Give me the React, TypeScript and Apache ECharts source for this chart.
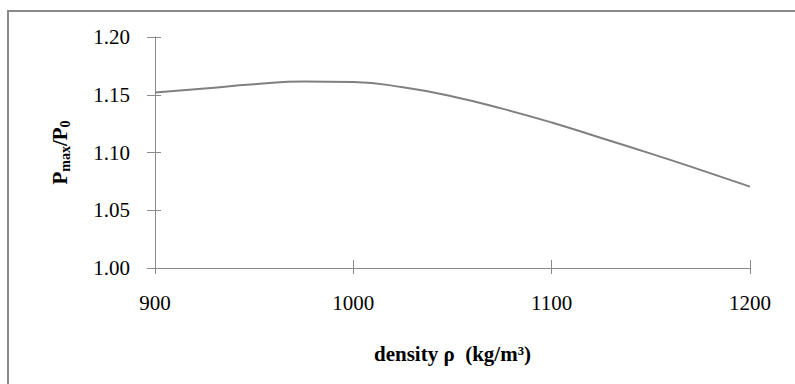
import React, { useEffect, useRef } from "react";
import * as echarts from "echarts";

// density ρ (kg/m³) and the pressure ratio Pmax/P0 at each density
const densities = [900, 925, 950, 975, 1000, 1025, 1050, 1075, 1100, 1125, 1150, 1175, 1200];
const ratios = [1.152, 1.1555, 1.159, 1.1615, 1.161, 1.1565, 1.1485, 1.138, 1.126, 1.1125, 1.099, 1.085, 1.0705];

const X_MIN = 900;
const X_MAX = 1200;
const X_STEP = 100;
const Y_MIN = 1.0;
const Y_MAX = 1.2;
const Y_STEP = 0.05;

const SERIF = "'Liberation Serif', 'Times New Roman', serif";
const AXIS_GRAY = "#8a8a8a";

export default function App() {
  const ref = useRef<HTMLDivElement>(null);

  useEffect(() => {
    if (!ref.current) return;
    const chart = echarts.init(ref.current, undefined, { renderer: "svg" });

    const labelStyle = {
      fontFamily: SERIF,
      fontSize: 21,
      color: "#000",
    };

    chart.setOption({
      animation: false,
      backgroundColor: "#fff",
      grid: { left: 155, right: 45, top: 37, bottom: 116 },
      graphic: [
        {
          type: "rect",
          shape: { x: 8, y: 11, width: 820, height: 420 },
          style: { fill: "none", stroke: AXIS_GRAY, lineWidth: 2 },
          silent: true,
        },
      ],
      xAxis: [
        {
          type: "value",
          min: X_MIN,
          max: X_MAX,
          interval: X_STEP,
          axisLine: { show: true, lineStyle: { color: AXIS_GRAY, width: 1 } },
          axisTick: { show: true, length: 6, lineStyle: { color: AXIS_GRAY } },
          splitLine: { show: false },
          axisLabel: { ...labelStyle, margin: 24, formatter: (v: number) => String(v) },
          name: "density ρ  (kg/m³)",
          nameLocation: "middle",
          nameGap: 75,
          nameTextStyle: {
            fontFamily: SERIF,
            fontSize: 21,
            fontWeight: "bold",
            color: "#000",
          },
        },
        {
          // inward half of the crossing ticks
          type: "value",
          position: "bottom",
          min: X_MIN,
          max: X_MAX,
          interval: X_STEP,
          axisLine: { show: false },
          axisTick: { show: true, inside: true, length: 8, lineStyle: { color: AXIS_GRAY } },
          axisLabel: { show: false },
          splitLine: { show: false },
        },
      ],
      yAxis: [
        {
          type: "value",
          min: Y_MIN,
          max: Y_MAX,
          interval: Y_STEP,
          axisLine: { show: true, lineStyle: { color: AXIS_GRAY, width: 1 } },
          axisTick: { show: true, length: 8, lineStyle: { color: AXIS_GRAY } },
          splitLine: { show: false },
          axisLabel: {
            ...labelStyle,
            margin: 25,
            formatter: (v: number) => v.toFixed(2),
          },
          name: "{b|P}{s|max}{b|/P}{s|0}",
          nameLocation: "middle",
          nameGap: 83,
          nameTextStyle: {
            color: "#000",
            rich: {
              b: { fontFamily: SERIF, fontSize: 21, fontWeight: "bold", color: "#000" },
              s: {
                fontFamily: SERIF,
                fontSize: 14,
                fontWeight: "bold",
                color: "#000",
                padding: [10, 0, 0, 0],
              },
            },
          },
        },
        {
          // inward half of the crossing ticks
          type: "value",
          position: "left",
          min: Y_MIN,
          max: Y_MAX,
          interval: Y_STEP,
          axisLine: { show: false },
          axisTick: { show: true, inside: true, length: 6, lineStyle: { color: AXIS_GRAY } },
          axisLabel: { show: false },
          splitLine: { show: false },
        },
      ],
      series: [
        {
          type: "line",
          xAxisIndex: 0,
          yAxisIndex: 0,
          data: densities.map((d, i) => [d, ratios[i]]),
          smooth: 0.5,
          showSymbol: false,
          symbol: "none",
          lineStyle: { color: "#808080", width: 2 },
        },
      ],
    });

    return () => chart.dispose();
  }, []);

  return (
    <div
      ref={ref}
      style={{ position: "fixed", left: 0, top: 0, width: 795, height: 384 }}
    />
  );
}
